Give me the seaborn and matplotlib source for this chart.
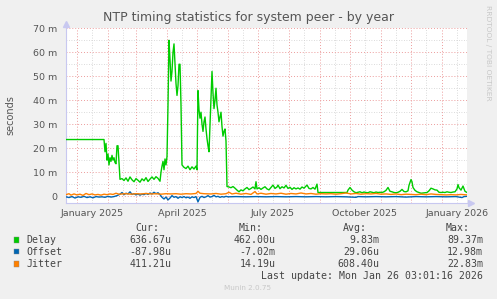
#!/usr/bin/env python3
"""
NTP timing statistics for system peer - by year (Munin style)
"""

import pandas as pd
import matplotlib
matplotlib.use('Agg')
import matplotlib.pyplot as plt
import matplotlib.dates as mdates
from matplotlib.patches import Rectangle
from matplotlib.ticker import FixedLocator, FuncFormatter
import seaborn as sns

# --- data (days since START, values in ms) ---
START = '2024-12-21'
END_DAY = 401

delay_day = [0, 38, 39, 40, 41, 42, 43, 44, 45, 46, 47, 48, 49, 50, 51, 52, 53, 54, 56, 58,
             60, 62, 64, 66, 68, 70, 72, 74, 76, 78, 80, 82, 84, 86, 88, 90, 92, 94, 95, 96,
             97, 98, 99, 100, 101, 102, 103, 104, 105, 106, 107, 108, 109, 110, 111, 112, 113, 114, 115, 116,
             118, 120, 122, 124, 126, 128, 130, 131, 132, 133, 134, 135, 136, 137, 138, 139, 140, 141, 142, 143,
             144, 145, 146, 147, 148, 149, 150, 151, 152, 153, 154, 155, 156, 157, 158, 159, 160, 161, 163, 165,
             167, 169, 171, 173, 175, 177, 179, 181, 183, 185, 187, 189, 190, 191, 193, 195, 197, 199, 201, 203,
             205, 207, 209, 211, 212, 214, 216, 218, 220, 222, 224, 226, 228, 230, 232, 234, 236, 238, 240, 241,
             243, 245, 247, 249, 251, 252, 281, 282, 284, 286, 288, 290, 292, 294, 296, 298, 300, 302, 304, 306,
             308, 310, 312, 314, 316, 318, 320, 322, 324, 326, 328, 330, 332, 334, 336, 338, 340, 342, 343, 345,
             346, 347, 349, 351, 353, 355, 357, 359, 361, 363, 365, 367, 369, 371, 373, 375, 377, 379, 381, 383,
             385, 387, 389, 391, 392, 393, 395, 397, 399, 401]
delay_ms = [23.6, 23.6, 18.5, 22.0, 15.0, 17.5, 13.0, 16.0, 14.5, 17.0, 15.0, 16.0, 14.0, 13.5, 21.0, 21.0, 14.0, 7.0, 7.3, 6.5,
            7.6, 6.2, 8.0, 6.8, 6.0, 7.3, 6.6, 5.8, 7.2, 6.4, 7.7, 6.1, 7.1, 8.0, 7.0, 8.1, 7.4, 6.2, 10.0, 12.5,
            14.5, 11.0, 15.5, 13.0, 16.5, 38.0, 65.0, 57.0, 48.0, 52.0, 60.0, 63.5, 55.0, 47.0, 42.0, 46.0, 55.0, 55.0, 38.0, 13.0,
            12.0, 11.5, 12.5, 11.0, 12.2, 11.3, 12.5, 11.0, 44.0, 36.0, 32.5, 35.0, 30.0, 27.0, 31.0, 33.0, 28.0, 24.0, 21.0, 18.5,
            30.0, 41.0, 52.0, 43.0, 36.5, 40.0, 45.0, 38.0, 35.0, 31.0, 33.0, 35.0, 29.0, 25.0, 27.0, 28.0, 23.0, 4.0, 3.8, 3.5,
            4.0, 3.3, 2.5, 1.8, 2.6, 2.2, 3.0, 3.6, 2.7, 3.2, 3.8, 3.0, 6.0, 3.0, 3.5, 2.8, 3.4, 3.9, 3.0, 2.6,
            3.6, 4.6, 3.2, 3.8, 4.6, 3.1, 3.9, 3.4, 4.5, 3.2, 3.7, 2.8, 3.5, 3.0, 3.4, 2.9, 3.8, 3.3, 4.2, 4.6,
            3.2, 3.0, 3.6, 2.9, 5.0, 1.5, 1.5, 2.5, 3.6, 2.5, 1.8, 1.4, 1.6, 1.8, 1.4, 1.7, 1.5, 1.4, 1.8, 1.6,
            1.4, 1.7, 1.5, 1.6, 1.5, 1.8, 2.4, 3.6, 2.0, 1.8, 1.5, 1.4, 1.6, 2.0, 2.8, 1.9, 1.8, 2.2, 4.5, 6.9,
            6.0, 3.6, 2.4, 1.8, 1.5, 1.2, 1.3, 1.4, 1.5, 2.2, 3.3, 3.0, 2.6, 2.5, 1.6, 1.5, 1.6, 1.5, 1.8, 1.6,
            1.5, 1.7, 1.8, 3.0, 4.8, 3.5, 2.5, 4.2, 2.0, 1.5]

offset_day = [0, 3, 6, 9, 12, 15, 18, 21, 24, 27, 30, 33, 36, 39, 42, 45, 48, 51, 54, 56,
              58, 60, 62, 64, 66, 68, 70, 72, 74, 76, 78, 80, 82, 84, 86, 88, 90, 92, 94, 96,
              98, 100, 102, 104, 106, 108, 110, 112, 114, 116, 118, 120, 122, 124, 126, 128, 130, 132, 134, 136,
              138, 140, 142, 144, 146, 148, 150, 152, 154, 156, 158, 160, 162, 170, 180, 190, 200, 210, 220, 230,
              240, 250, 260, 270, 280, 290, 292, 300, 310, 320, 330, 340, 350, 360, 370, 380, 390, 396, 398, 401]
offset_ms = [-0.3, -0.6, -0.2, -0.8, -0.3, -0.5, -0.1, -0.6, -0.3, -0.7, -0.2, -0.4, -0.3, -0.5, -0.1, -0.4, -0.2, 0.2, 0.8, 1.5,
             0.6, 1.2, 0.9, 1.8, 0.7, 1.0, 0.5, 0.9, 0.4, 0.8, 0.6, 1.1, 0.7, 1.3, 0.9, 1.6, 1.0, 1.4, 0.6, -0.5,
             -1.2, -0.4, -1.6, -0.8, 0.2, -0.5, -0.2, -0.9, -0.3, -0.6, -0.2, -0.7, -0.4, -0.9, -0.3, -0.6, -0.2, -2.4, -0.5, -0.1,
             -0.6, -0.3, 0.2, -0.4, -0.2, 0.3, -0.3, -0.1, -0.5, -0.2, -0.4, -0.1, -0.3, -0.2, -0.3, -0.2, -0.3, -0.2, -0.3, -0.2,
             -0.3, -0.2, -0.3, -0.2, -0.3, -0.5, -0.2, -0.3, -0.2, -0.3, -0.2, -0.4, -0.2, -0.3, -0.2, -0.3, -0.2, -0.6, -0.2, -0.1]

jitter_day = [0, 3, 5, 8, 11, 14, 17, 20, 23, 26, 29, 32, 35, 38, 41, 44, 47, 50, 53, 56,
              60, 65, 70, 75, 80, 85, 90, 95, 100, 105, 110, 115, 120, 125, 130, 132, 134, 138, 145, 150,
              155, 160, 163, 166, 170, 175, 180, 185, 189, 191, 195, 200, 205, 210, 215, 220, 225, 230, 235, 240,
              245, 250, 255, 260, 265, 270, 275, 280, 285, 290, 295, 300, 305, 310, 315, 320, 325, 330, 335, 340,
              345, 350, 355, 360, 365, 370, 375, 380, 385, 390, 395, 401]
jitter_ms = [0.6, 1.0, 0.4, 0.9, 0.5, 0.8, 0.3, 1.1, 0.6, 0.9, 0.5, 0.7, 0.4, 0.8, 0.6, 0.9, 0.7, 1.2, 0.8, 0.9,
             1.0, 0.8, 1.0, 0.9, 1.1, 0.9, 1.0, 0.8, 1.0, 0.9, 1.0, 0.8, 1.0, 0.9, 1.1, 2.0, 1.2, 1.0, 0.9, 1.1,
             0.8, 1.0, 1.6, 0.9, 1.2, 0.8, 1.1, 0.7, 1.9, 0.9, 1.2, 0.8, 1.1, 0.9, 1.2, 0.8, 1.1, 0.9, 1.3, 0.9,
             1.1, 0.8, 1.0, 0.9, 1.0, 0.8, 1.0, 1.3, 0.9, 1.1, 0.8, 1.0, 0.9, 1.1, 0.8, 0.9, 0.7, 0.9, 0.6, 0.8,
             0.7, 0.6, 0.8, 0.6, 0.9, 0.7, 0.6, 0.5, 0.6, 0.5, 0.7, 0.5]

series_names = ['Delay', 'Offset', 'Jitter']
series_colors = ['#00CC00', '#0066B3', '#FF8000']
stat_cur = ['636.67u', '-87.98u', '411.21u']
stat_min = ['462.00u', '-7.02m', '14.19u']
stat_avg = ['9.83m', '29.06u', '608.40u']
stat_max = ['89.37m', '12.98m', '22.83m']
last_update = 'Last update: Mon Jan 26 03:01:16 2026'

BG = '#F0F0F0'
TXT = '#555555'
W, H = 497, 299


def to_dates(days):
    return pd.to_datetime(START) + pd.to_timedelta(days, unit='D')


def fx(px):
    return px / W


def fy(py):
    return 1 - py / H


def main():
    sns.set_style('white')
    plt.rcParams['font.family'] = ['DejaVu Sans']

    fig = plt.figure(figsize=(W / 100, H / 100), dpi=100, facecolor=BG)
    ax = fig.add_axes([fx(66), fy(203.3), fx(467 - 66), (203.3 - 28.3) / H])
    ax.set_facecolor('white')

    t0 = pd.to_datetime(START)
    t1 = t0 + pd.Timedelta(days=END_DAY)

    # grid: red = month starts / 10 m, grey = mid-month / 5 m
    months = pd.date_range('2025-01-01', '2026-01-01', freq='MS')
    mids = pd.date_range('2024-12-01', '2026-01-01', freq='MS') + pd.Timedelta(days=15)
    for m in mids:
        if t0 < m < t1:
            ax.axvline(m, color='#cfcfcf', lw=0.6, ls=(0, (1, 2)), zorder=0)
    for v in [5, 15, 25, 35, 45, 55, 65]:
        ax.axhline(v, color='#cfcfcf', lw=0.6, ls=(0, (1, 2)), zorder=0)
    for m in months:
        ax.axvline(m, color='#ec9c9c', lw=0.7, ls=(0, (1, 2)), zorder=0)
    for v in range(0, 71, 10):
        ax.axhline(v, color='#ec9c9c', lw=0.7, ls=(0, (1, 2)), zorder=0)

    # series
    data = [(delay_day, delay_ms), (offset_day, offset_ms), (jitter_day, jitter_ms)]
    for (d, v), c in zip(data, series_colors):
        sns.lineplot(x=to_dates(d), y=v, ax=ax, color=c, lw=1.0,
                     estimator=None, sort=False, zorder=3)

    ax.set_xlim(t0, t1)
    ax.set_ylim(-3, 70)

    # ticks
    ax.yaxis.set_major_locator(FixedLocator(list(range(0, 71, 10))))
    ax.yaxis.set_major_formatter(FuncFormatter(lambda v, p: '0' if v == 0 else f'{int(v)} m'))
    lab_dates = pd.to_datetime(['2025-01-16', '2025-04-16', '2025-07-16', '2025-10-16', '2026-01-16'])
    ax.xaxis.set_major_locator(FixedLocator(mdates.date2num(lab_dates)))
    ax.xaxis.set_major_formatter(mdates.DateFormatter('%B %Y'))
    ax.tick_params(axis='both', length=0, labelsize=6.8, labelcolor=TXT)
    ax.tick_params(axis='y', pad=6)
    ax.tick_params(axis='x', pad=4)
    ax.set_xlabel('')
    ax.set_ylabel('')

    for s in ['top', 'right']:
        ax.spines[s].set_visible(False)
    for s in ['left', 'bottom']:
        ax.spines[s].set_color('#c8c8f0')
        ax.spines[s].set_linewidth(0.8)
    ax.plot([0], [1.025], marker='^', ms=4, color='#c8c8f0', transform=ax.transAxes, clip_on=False)
    ax.plot([0, 0], [1.0, 1.025], color='#c8c8f0', lw=0.8, transform=ax.transAxes, clip_on=False)
    ax.plot([1.0, 1.01], [0, 0], color='#c8c8f0', lw=0.8, transform=ax.transAxes, clip_on=False)
    ax.plot([1.01], [0], marker='>', ms=4, color='#c8c8f0', transform=ax.transAxes, clip_on=False)

    # titles
    fig.text(0.5, fy(18), 'NTP timing statistics for system peer - by year',
             ha='center', va='center', fontsize=9.0, color=TXT)
    fig.text(fx(10), fy(115), 'seconds', rotation=90, ha='center', va='center',
             fontsize=7, color=TXT)
    fig.text(fx(488), fy(53), 'RRDTOOL / TOBI OETIKER', rotation=270, ha='center', va='center',
             fontsize=5.4, color='#c8c8c8')

    # legend table
    mono = dict(family='DejaVu Sans Mono', fontsize=7.1, color='#444444', va='center')
    for lbl, xr in zip(['Cur:', 'Min:', 'Avg:', 'Max:'], [159, 263, 366.7, 470]):
        fig.text(fx(xr), fy(228), lbl, ha='right', **mono)
    rows_y = [240, 251.7, 264]
    for i, name in enumerate(series_names):
        y = rows_y[i]
        fig.add_artist(Rectangle((fx(13.5), fy(y + 2.7)), 5.5 / W, 5.5 / H,
                                 transform=fig.transFigure, facecolor=series_colors[i],
                                 edgecolor='#888888', lw=0.3))
        fig.text(fx(26.7), fy(y), name, ha='left', **mono)
        for val, xr in zip([stat_cur[i], stat_min[i], stat_avg[i], stat_max[i]],
                           [171.7, 275.7, 379, 483]):
            fig.text(fx(xr), fy(y), val, ha='right', **mono)
    fig.text(fx(483), fy(275.7), last_update, ha='right', **mono)
    fig.text(fx(248), fy(287.7), 'Munin 2.0.75', ha='center', va='center',
             fontsize=5.2, color='#c8c8c8')

    plt.savefig('out.png', dpi=100, facecolor=BG)
    plt.close()


if __name__ == "__main__":
    main()
